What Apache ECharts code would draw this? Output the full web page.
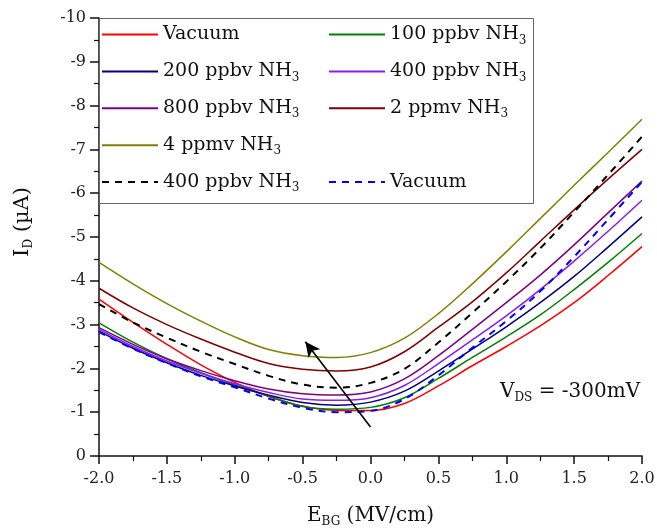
<!DOCTYPE html>
<html><head><meta charset="utf-8">
<script src="https://cdn.jsdelivr.net/npm/echarts@6/dist/echarts.min.js"></script>
<style>html,body{margin:0;padding:0;background:#fff}#c{width:657px;height:528px}</style>
</head><body><div id="c"></div>
<script>
// E_BG (MV/cm)
const xValues = [-2, -1.75, -1.5, -1.25, -1, -0.75, -0.5, -0.25, 0, 0.25, 0.5, 0.75, 1, 1.25, 1.5, 1.75, 2];
// I_D (uA)
const vacuum   = [-3.58,-3.05,-2.55,-2.08,-1.68,-1.36,-1.14,-1.04,-1.04,-1.20,-1.60,-2.06,-2.50,-2.97,-3.50,-4.12,-4.78];
const ppbv100  = [-3.04,-2.60,-2.22,-1.90,-1.62,-1.37,-1.13,-1.07,-1.11,-1.33,-1.77,-2.25,-2.72,-3.22,-3.80,-4.42,-5.08];
const ppbv200  = [-2.85,-2.46,-2.13,-1.84,-1.60,-1.39,-1.22,-1.16,-1.23,-1.48,-1.94,-2.44,-2.95,-3.50,-4.10,-4.77,-5.46];
const ppbv400  = [-2.89,-2.50,-2.17,-1.89,-1.65,-1.45,-1.30,-1.27,-1.33,-1.61,-2.11,-2.65,-3.20,-3.80,-4.45,-5.13,-5.84];
const ppbv800  = [-2.93,-2.55,-2.22,-1.95,-1.72,-1.53,-1.42,-1.39,-1.46,-1.76,-2.29,-2.89,-3.50,-4.13,-4.82,-5.55,-6.28];
const ppmv2    = [-3.83,-3.38,-3.00,-2.67,-2.37,-2.11,-1.98,-1.94,-2.03,-2.38,-2.94,-3.52,-4.18,-4.90,-5.62,-6.32,-7.00];
const ppmv4    = [-4.42,-3.93,-3.48,-3.08,-2.72,-2.43,-2.29,-2.25,-2.36,-2.69,-3.25,-3.93,-4.66,-5.42,-6.18,-6.93,-7.69];
const ppbv400b = [-3.47,-3.05,-2.70,-2.38,-2.10,-1.83,-1.63,-1.56,-1.67,-1.99,-2.59,-3.27,-3.98,-4.74,-5.57,-6.42,-7.29];
const vacuumB  = [-2.83,-2.45,-2.12,-1.82,-1.57,-1.31,-1.10,-1.00,-1.03,-1.30,-1.84,-2.47,-3.08,-3.76,-4.55,-5.40,-6.26];
// arrow annotation (data coords): tail, head
const arrowTail = [0.0, -0.66];
const arrowHead = [-0.48, -2.61];
const xTicks = [-2, -1.5, -1, -0.5, 0, 0.5, 1, 1.5, 2];
const yTicks = [-10, -9, -8, -7, -6, -5, -4, -3, -2, -1, 0];

const FONT = 'DejaVu Serif';
const seriesDefs = [
  {id:'vac',  label:'Vacuum',                 data:vacuum,   color:'#ff0000', dash:false, col:0, row:0},
  {id:'p100', label:'100 ppbv NH{sub|3}',     data:ppbv100,  color:'#008000', dash:false, col:1, row:0},
  {id:'p200', label:'200 ppbv NH{sub|3}',     data:ppbv200,  color:'#000080', dash:false, col:0, row:1},
  {id:'p400', label:'400 ppbv NH{sub|3}',     data:ppbv400,  color:'#8b1cf0', dash:false, col:1, row:1},
  {id:'p800', label:'800 ppbv NH{sub|3}',     data:ppbv800,  color:'#800080', dash:false, col:0, row:2},
  {id:'m2',   label:'2 ppmv NH{sub|3}',       data:ppmv2,    color:'#800000', dash:false, col:1, row:2},
  {id:'m4',   label:'4 ppmv NH{sub|3}',       data:ppmv4,    color:'#808000', dash:false, col:0, row:3},
  {id:'p400b',label:'400 ppbv NH{sub|3}',     data:ppbv400b, color:'#000000', dash:true,  col:0, row:4},
  {id:'vacb', label:'Vacuum',                 data:vacuumB,  color:'#0000ff', dash:true,  col:1, row:4}
];
const labelMap = {};
seriesDefs.forEach(d => labelMap[d.id] = d.label);

const colX = [101, 328];
const rowY = r => 34 + 36.9 * r;

const series = seriesDefs.map(d => ({
  type: 'line', name: d.id, smooth: 0.35, symbol: 'none',
  data: xValues.map((x, i) => [x, d.data[i]]),
  lineStyle: {color: d.color, width: d.dash ? 2 : 1.5, type: d.dash ? [7, 6] : 'solid'},
  itemStyle: {color: d.color},
  emphasis: {disabled: true},
  z: d.dash ? 3 : 2
}));
series[7].markLine = {
  silent: true, symbol: ['none', 'arrow'], symbolSize: [11, 15],
  lineStyle: {color: '#000', type: 'solid', width: 1.6},
  label: {show: false}, emphasis: {disabled: true},
  data: [[{coord: arrowTail}, {coord: arrowHead}]]
};

const legends = seriesDefs.map(d => ({
  data: [d.id], left: colX[d.col], top: rowY(d.row) - 9, padding: 0,
  itemWidth: 56, itemHeight: 14, selectedMode: false,
  itemStyle: {opacity: 0},
  formatter: n => labelMap[n],
  textStyle: {fontFamily: FONT, fontSize: 19, color: '#111',
    rich: {sub: {fontFamily: FONT, fontSize: 12, color: '#111', padding: [12, 0, 0, 0]}}}
}));

const chart = echarts.init(document.getElementById('c'), null, {renderer: 'canvas'});
chart.setOption({
  animation: false,
  backgroundColor: '#fff',
  grid: {left: 99, right: 15, top: 18, bottom: 72, containLabel: false, outerBoundsMode: 'none'},
  legend: legends,
  xAxis: {
    type: 'value', min: -2, max: 2, interval: 0.5,
    name: 'E{sub|BG} (MV/cm)', nameLocation: 'middle', nameGap: 48,
    nameTextStyle: {fontFamily: FONT, fontSize: 20, color: '#111',
      rich: {sub: {fontFamily: FONT, fontSize: 12, color: '#111', padding: [12, 0, 0, 0]}}},
    axisLine: {onZero: false, lineStyle: {color: '#111', width: 1.5}},
    axisTick: {show: true, length: 8, lineStyle: {color: '#111', width: 1.5}},
    minorTick: {show: true, splitNumber: 2, length: 5, lineStyle: {color: '#111', width: 1.2}},
    splitLine: {show: false},
    axisLabel: {fontFamily: FONT, fontSize: 16, color: '#222', margin: 15,
      formatter: v => xTicks.includes(v) ? v.toFixed(1) : ''}
  },
  yAxis: {
    type: 'value', min: -10, max: 0, interval: 1, inverse: true,
    name: 'I{sub|D} (µA)', nameLocation: 'middle', nameGap: 64, nameRotate: 90,
    nameTextStyle: {fontFamily: FONT, fontSize: 21, color: '#111', padding: [0, 0, 0, 30],
      rich: {sub: {fontFamily: FONT, fontSize: 12, color: '#111', padding: [12, 0, 0, 0]}}},
    axisLine: {show: true, onZero: false, lineStyle: {color: '#111', width: 1.5}},
    axisTick: {show: true, length: 9, lineStyle: {color: '#111', width: 1.5}},
    minorTick: {show: true, splitNumber: 2, length: 5, lineStyle: {color: '#111', width: 1.2}},
    splitLine: {show: false},
    axisLabel: {fontFamily: FONT, fontSize: 16, color: '#222', margin: 13,
      formatter: v => yTicks.includes(v) ? String(v) : ''}
  },
  graphic: [
    {type: 'rect', left: 99, top: 18, shape: {width: 434, height: 185},
     style: {fill: 'rgba(0,0,0,0)', stroke: '#666', lineWidth: 1}, z: 10, silent: true},
    {type: 'text', left: 500, top: 382, z: 10, silent: true,
     style: {text: 'V{sub|DS} = -300mV', fill: '#111', font: '20px "DejaVu Serif"',
       rich: {sub: {fontFamily: FONT, fontSize: 12, fill: '#111', padding: [12, 0, 0, 0]}}}}
  ],
  series: series
});
</script></body></html>
